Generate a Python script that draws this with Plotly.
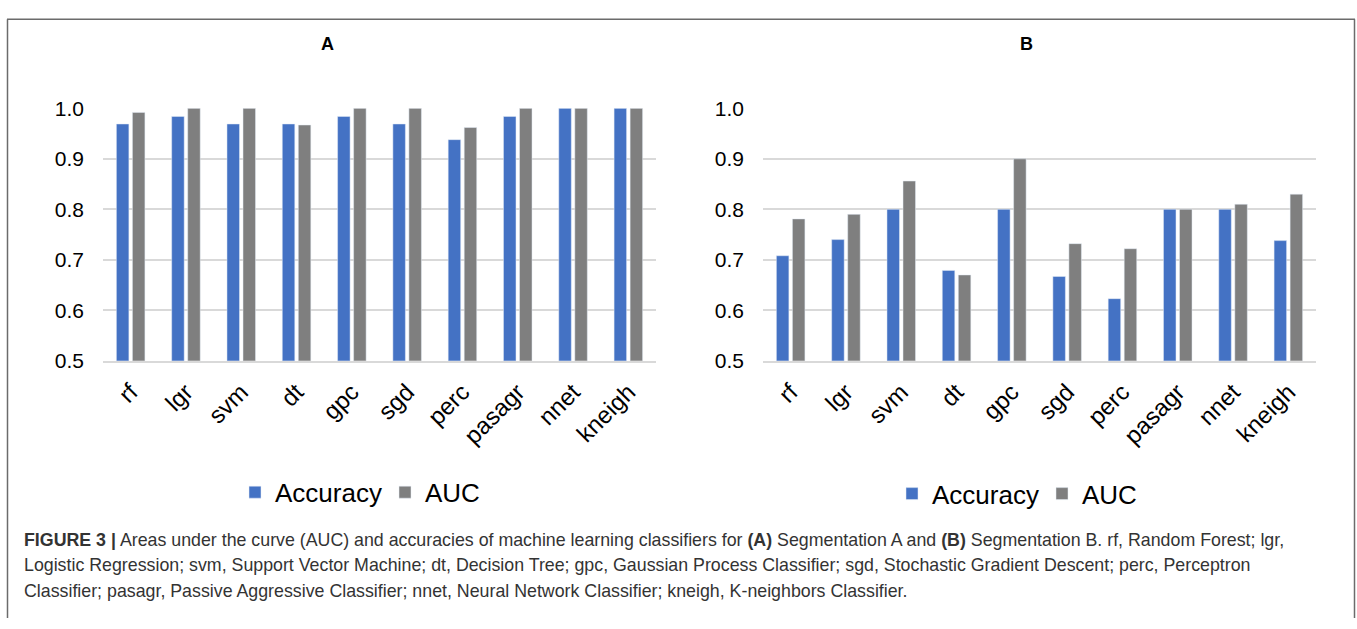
import plotly.graph_objects as go

# Figure size in pixels
W, H = 1357, 629

# Classifiers and scores for the two segmentations
classifiers = ["rf", "lgr", "svm", "dt", "gpc", "sgd", "perc", "pasagr", "nnet", "kneigh"]
accuracy_a = [0.969, 0.984, 0.969, 0.969, 0.984, 0.969, 0.938, 0.984, 1.0, 1.0]
auc_a = [0.992, 1.0, 1.0, 0.967, 1.0, 1.0, 0.962, 1.0, 1.0, 1.0]
accuracy_b = [0.708, 0.740, 0.800, 0.679, 0.800, 0.667, 0.623, 0.800, 0.800, 0.738]
auc_b = [0.781, 0.790, 0.856, 0.670, 0.900, 0.732, 0.722, 0.800, 0.810, 0.830]
y_ticks = [0.5, 0.6, 0.7, 0.8, 0.9, 1.0]
panel_titles = ["A", "B"]

caption_lines = [
    "<b>FIGURE 3 |</b> Areas under the curve (AUC) and accuracies of machine learning classifiers for "
    "<b>(A)</b> Segmentation A and <b>(B)</b> Segmentation B. rf, Random Forest; lgr,",
    "Logistic Regression; svm, Support Vector Machine; dt, Decision Tree; gpc, Gaussian Process "
    "Classifier; sgd, Stochastic Gradient Descent; perc, Perceptron",
    "Classifier; pasagr, Passive Aggressive Classifier; nnet, Neural Network Classifier; "
    "kneigh, K-neighbors Classifier.",
]

BLUE = "#4472C4"
GRAY = "#7F7F7F"
GRID = "#D9D9D9"
FONT = "Liberation Sans, Arial, sans-serif"


def px_x(x):
    return x / W


def px_y(y):
    return 1 - y / H


fig = go.Figure()

fig.add_trace(go.Bar(x=classifiers, y=accuracy_a, name="Accuracy", marker_color=BLUE,
                     xaxis="x", yaxis="y", legend="legend"))
fig.add_trace(go.Bar(x=classifiers, y=auc_a, name="AUC", marker_color=GRAY,
                     xaxis="x", yaxis="y", legend="legend"))
fig.add_trace(go.Bar(x=classifiers, y=accuracy_b, name="Accuracy", marker_color=BLUE,
                     xaxis="x2", yaxis="y2", legend="legend2"))
fig.add_trace(go.Bar(x=classifiers, y=auc_b, name="AUC", marker_color=GRAY,
                     xaxis="x2", yaxis="y2", legend="legend2"))

y_dom = [px_y(362), px_y(100)]

xaxis_common = dict(
    tickangle=-45, tickfont=dict(size=24, color="#000", family=FONT),
    showgrid=False, zeroline=False, showline=True, linecolor=GRID, linewidth=1.5,
    ticks="", ticklabelstandoff=6, fixedrange=True,
)
yaxis_common = dict(
    range=[0.5, 1.0], tickvals=y_ticks, tickformat=".1f",
    tickfont=dict(size=21, color="#000", family=FONT),
    showgrid=True, gridcolor=GRID, gridwidth=1.5, zeroline=False, showline=False,
    ticks="", ticklabelstandoff=18, fixedrange=True,
)

legend_common = dict(
    orientation="h", yanchor="middle", xanchor="left",
    font=dict(size=26, color="#000", family=FONT),
    bgcolor="rgba(0,0,0,0)", itemwidth=30,
    entrywidth=105, entrywidthmode="pixels",
    itemclick=False, itemdoubleclick=False,
)

fig.update_layout(
    width=W, height=H, autosize=False,
    margin=dict(l=0, r=0, t=0, b=0),
    paper_bgcolor="white", plot_bgcolor="white",
    font=dict(family=FONT, color="#000"),
    barmode="group", bargap=0.42, bargroupgap=0.22,
    xaxis=dict(domain=[px_x(103), px_x(656)], anchor="y", **xaxis_common),
    yaxis=dict(domain=y_dom, anchor="x", **yaxis_common),
    xaxis2=dict(domain=[px_x(763), px_x(1316)], anchor="y2", **xaxis_common),
    yaxis2=dict(domain=y_dom, anchor="x2", **yaxis_common),
    legend=dict(x=px_x(235), y=px_y(498.5), **legend_common),
    legend2=dict(x=px_x(892), y=px_y(500), **legend_common),
    showlegend=True,
)

# Panel titles
for title, cx in zip(panel_titles, [327, 1026]):
    fig.add_annotation(text=f"<b>{title}</b>", x=px_x(cx), y=px_y(33), xref="paper", yref="paper",
                       showarrow=False, xanchor="center", yanchor="middle",
                       font=dict(size=18, color="#000", family=FONT))

# Caption below the panels
for line, cy in zip(caption_lines, [548, 574.5, 601]):
    fig.add_annotation(text=line, x=px_x(22), y=px_y(cy), xref="paper", yref="paper",
                       showarrow=False, xanchor="left", yanchor="middle", align="left",
                       font=dict(size=17.8, color="#333333", family=FONT))

# Frame around the figure (open at the bottom edge)
frame = dict(type="line", xref="paper", yref="paper", line=dict(color="#6b6b6b", width=1.5))
fig.add_shape(x0=px_x(7), x1=px_x(1355), y0=px_y(7.5), y1=px_y(7.5), **frame)
fig.add_shape(x0=px_x(7.5), x1=px_x(7.5), y0=px_y(7.5), y1=0, **frame)
fig.add_shape(x0=px_x(1354.5), x1=px_x(1354.5), y0=px_y(7.5), y1=0, **frame)

# Keep the fixed-size figure flush with the page corner
fig.write_html(
    "out.html",
    post_script="document.body.style.margin='0';document.body.style.overflow='hidden';",
)
